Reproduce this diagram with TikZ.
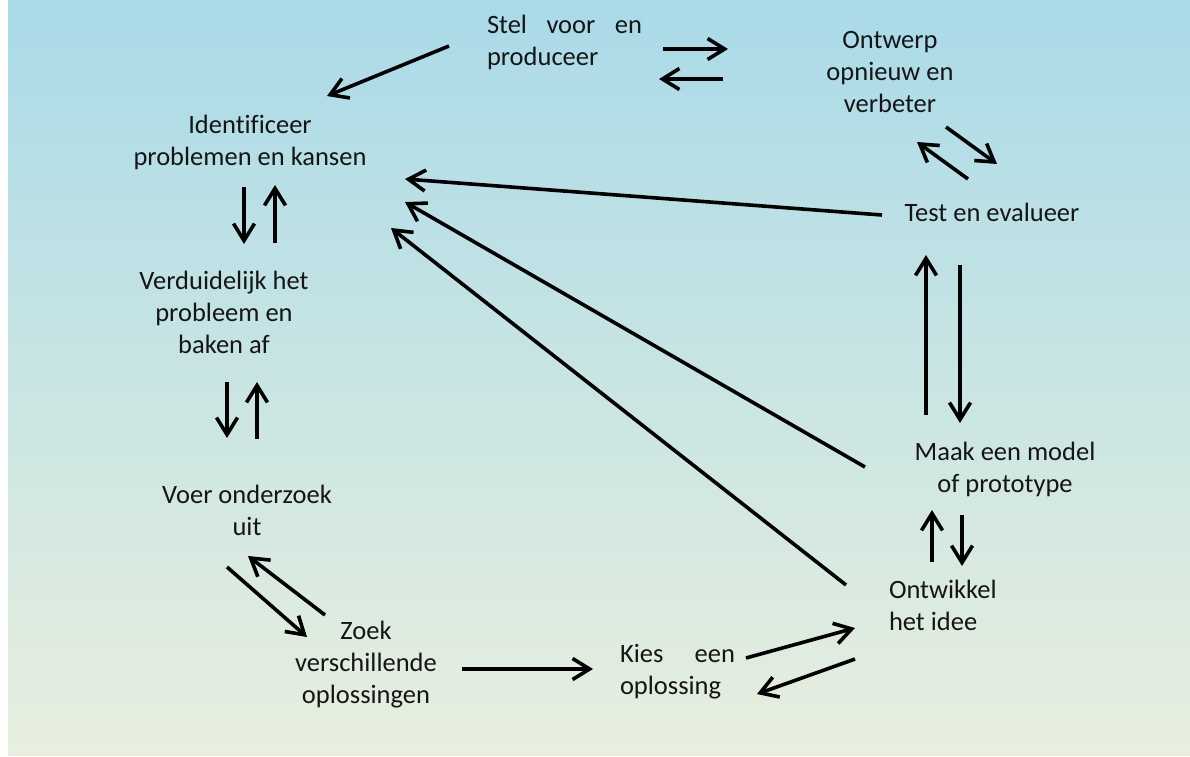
\documentclass[tikz,border=0pt]{standalone}
\usepackage{fontspec}
\setmainfont{Carlito}[Ligatures=NoCommon]
\usetikzlibrary{arrows.meta}
\definecolor{bgtop}{HTML}{A9DAE8}
\definecolor{bgbot}{HTML}{E8EFDE}
\definecolor{txt}{HTML}{151515}
\tikzset{
  lbl/.style={inner sep=0pt, outer sep=0pt, text=txt, font=\fontsize{26.5pt}{32pt}\selectfont},
  arr/.style={line width=3.6pt, -{Straight Barb[length=17pt,width=21pt]}},
}
\begin{document}
\begin{tikzpicture}[x=1pt,y=-1pt]
\useasboundingbox (0,0) rectangle (1190,756);
\shade[top color=bgtop, bottom color=bgbot] (8,0) rectangle (1190,755);

% text nodes (base anchor = baseline of the last line)
\node[lbl, anchor=base west, align=left] (stel) at (487,65) {\hbox to 155pt{Stel\hfill voor\hfill en}\\produceer};
\node[lbl, anchor=base, align=center] (ontwerp) at (890,112) {Ontwerp\\opnieuw en\\verbeter};
\node[lbl, anchor=base, align=center] (ident) at (250,165) {Identificeer\\problemen en kansen};
\node[lbl, anchor=base, align=center] (verd) at (224,353) {Verduidelijk het\\probleem en\\baken af};
\node[lbl, anchor=base, align=center] (voer) at (247,535) {Voer onderzoek\\uit};
\node[lbl, anchor=base, align=center] (zoek) at (366,703) {Zoek\\verschillende\\oplossingen};
\node[lbl, anchor=base west, align=left] (kies) at (620,694) {\hbox to 115pt{Kies\hfill een}\\oplossing};
\node[lbl, anchor=base, align=center] (test) at (992,221) {Test en evalueer};
\node[lbl, anchor=base, align=center] (maak) at (1005,492) {Maak een model\\of prototype};
\node[lbl, anchor=base west, align=left] (ontw) at (889,630) {Ontwikkel\\het idee};

% connector end points
\coordinate (a1s) at (449,46);   \coordinate (a1e) at (327,96);
\coordinate (a2s) at (663,49);   \coordinate (a2e) at (728,49);
\coordinate (a3s) at (723,79);   \coordinate (a3e) at (659,79);
\coordinate (a4s) at (946,127);  \coordinate (a4e) at (997,164);
\coordinate (a5s) at (968,179);  \coordinate (a5e) at (917,142);
\coordinate (a6s) at (882,215);  \coordinate (a6e) at (405,179);
\coordinate (a7s) at (865,467);  \coordinate (a7e) at (405,202);
\coordinate (a8s) at (846,585);  \coordinate (a8e) at (391,228);
\coordinate (a9s) at (960,265);  \coordinate (a9e) at (960,423);
\coordinate (a10s) at (926,415); \coordinate (a10e) at (926,255);
\coordinate (a11s) at (932,562); \coordinate (a11e) at (932,510);
\coordinate (a12s) at (962,515); \coordinate (a12e) at (962,566);
\coordinate (a13s) at (746,658); \coordinate (a13e) at (855,628);
\coordinate (a14s) at (855,659); \coordinate (a14e) at (757,694);
\coordinate (a15s) at (462,669); \coordinate (a15e) at (593,669);
\coordinate (a16s) at (227,567); \coordinate (a16e) at (307,637);
\coordinate (a17s) at (325,615); \coordinate (a17e) at (248,556);
\coordinate (a18s) at (244,187); \coordinate (a18e) at (244,244);
\coordinate (a19s) at (275,243); \coordinate (a19e) at (275,185);
\coordinate (a20s) at (227,382); \coordinate (a20e) at (227,438);
\coordinate (a21s) at (257,439); \coordinate (a21e) at (257,382);

\foreach \i in {1,...,21} {
  \draw[arr] (a\i s) -- (a\i e);
}
\end{tikzpicture}
\end{document}
